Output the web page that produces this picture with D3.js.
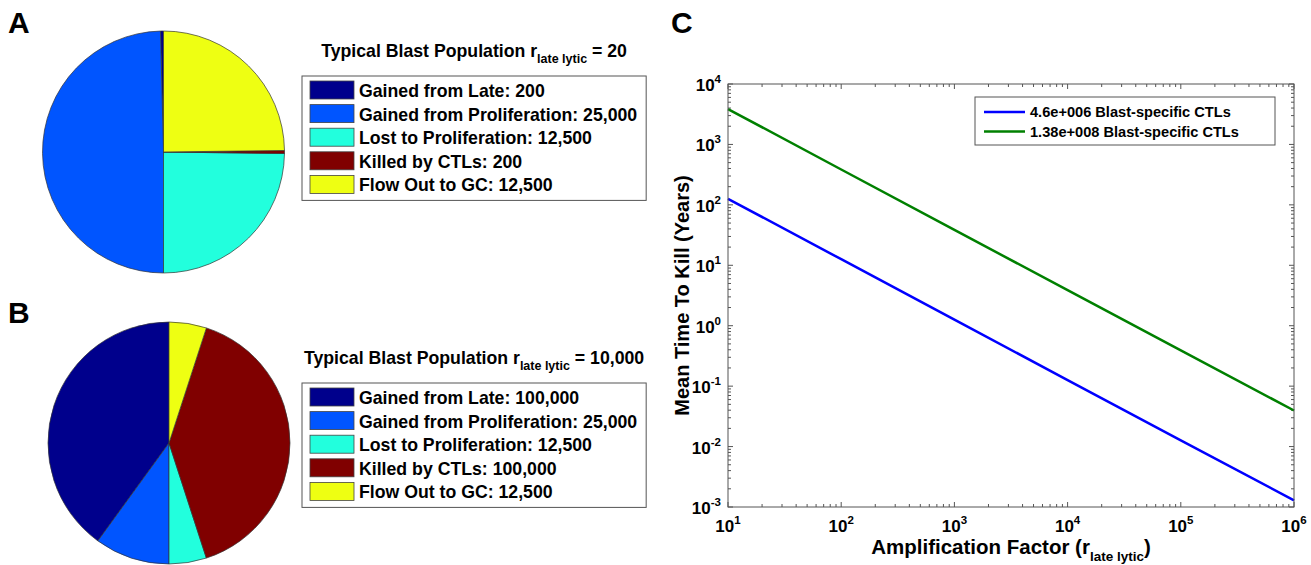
<!DOCTYPE html>
<html lang="en">
<head>
<meta charset="utf-8" />
<title>Blast population and mean time to kill</title>
<script src="https://cdn.jsdelivr.net/npm/d3@7"></script>
<style>
  body { margin: 0; background: #fff; }
  text { font-family: "Liberation Sans", Arial, sans-serif; font-weight: bold; fill: #000; }
</style>
</head>
<body>
<script>
// pie data (panels A and B)
var categories = ["Gained from Late", "Gained from Proliferation", "Lost to Proliferation", "Killed by CTLs", "Flow Out to GC"];
var valuesA = [200, 25000, 12500, 200, 12500];
var valuesB = [100000, 25000, 12500, 100000, 12500];
var sliceColors = ["#00008c", "#0055ff", "#22ffdd", "#800000", "#eeff12"];

// line data (panel C)
var ampFactor = [10, 100, 1000, 10000, 100000, 1000000];
var timeLow = [126, 12.6, 1.26, 0.126, 0.0127, 0.00129];
var timeHigh = [3850, 385, 38.5, 3.88, 0.39, 0.0395];
var seriesNames = ["4.6e+006 Blast-specific CTLs", "1.38e+008 Blast-specific CTLs"];
var seriesColors = ["#0000ff", "#008000"];
var xTickExp = [1, 2, 3, 4, 5, 6];
var yTickExp = [-3, -2, -1, 0, 1, 2, 3, 4];

var w = 1311, h = 565;
var svg = d3.select("body").append("svg").attr("width", w).attr("height", h);

var fmt = d3.format(",");

// panel letters
[["A", 8, 33], ["B", 8, 323], ["C", 671, 33]].forEach(function (l) {
  svg.append("text").attr("x", l[1]).attr("y", l[2]).attr("font-size", 30).text(l[0]);
});

function drawPie(cx, cy, values, rValue, boxTop) {
  var pie = d3.pie().sort(null).startAngle(0).endAngle(-2 * Math.PI);
  var arc = d3.arc().innerRadius(0).outerRadius(121);
  var g = svg.append("g").attr("transform", "translate(" + cx + "," + cy + ")");
  g.selectAll("path")
    .data(pie(values))
    .enter()
    .append("path")
    .attr("d", arc)
    .attr("fill", function (d, i) { return sliceColors[i]; })
    .attr("stroke", "#333")
    .attr("stroke-width", 0.7);

  // legend box
  var lg = svg.append("g");
  var rowH = 23.6;
  var box = lg.append("rect")
    .attr("x", 302).attr("y", boxTop)
    .attr("height", 5 + 4 * rowH + 18 + 7)
    .attr("fill", "#fff").attr("stroke", "#555").attr("stroke-width", 1);

  var maxLen = 0;
  values.forEach(function (v, i) {
    var y = boxTop + 5 + i * rowH;
    lg.append("rect")
      .attr("x", 310).attr("y", y).attr("width", 44).attr("height", 18)
      .attr("fill", sliceColors[i]).attr("stroke", "#444").attr("stroke-width", 0.8);
    var t = lg.append("text")
      .attr("x", 359).attr("y", y + 16)
      .attr("font-size", 17.7)
      .text(categories[i] + ": " + fmt(v));
    maxLen = Math.max(maxLen, t.node().getComputedTextLength());
  });
  var boxW = 359 + maxLen + 9 - 302;
  box.attr("width", boxW);

  // title centred over box
  var title = svg.append("text")
    .attr("x", 302 + boxW / 2).attr("y", boxTop - 19)
    .attr("text-anchor", "middle")
    .attr("font-size", 17.7);
  title.append("tspan").text("Typical Blast Population r");
  title.append("tspan").attr("font-size", 12.5).attr("dy", 6).text("late lytic");
  title.append("tspan").attr("dy", -6).text(" = " + fmt(rValue));
}

drawPie(163.5, 152, valuesA, 20, 76);
drawPie(169, 443, valuesB, 10000, 383);

// panel C
var x0 = 728, x1 = 1294, y0 = 507, y1 = 84;
var xScale = d3.scaleLog().domain([10, 1e6]).range([x0, x1]);
var yScale = d3.scaleLog().domain([1e-3, 1e4]).range([y0, y1]);

var axisColor = "#555";
var gC = svg.append("g");

// ticks (inward, on all four sides)
var xTicks = [];
xTickExp.forEach(function (e) {
  for (var m = 1; m < 10; m++) {
    var v = m * Math.pow(10, e);
    if (v <= 1e6) xTicks.push({ v: v, major: m === 1 });
  }
});
var yTicks = [];
yTickExp.forEach(function (e) {
  for (var m = 1; m < 10; m++) {
    var v = m * Math.pow(10, e);
    if (v <= 1e4) yTicks.push({ v: v, major: m === 1 });
  }
});

xTicks.forEach(function (t) {
  var x = xScale(t.v), len = t.major ? 5 : 3;
  gC.append("line").attr("x1", x).attr("x2", x).attr("y1", y0).attr("y2", y0 - len)
    .attr("stroke", axisColor);
  gC.append("line").attr("x1", x).attr("x2", x).attr("y1", y1).attr("y2", y1 + len)
    .attr("stroke", axisColor);
});
yTicks.forEach(function (t) {
  var y = yScale(t.v), len = t.major ? 5 : 3;
  gC.append("line").attr("x1", x0).attr("x2", x0 + len).attr("y1", y).attr("y2", y)
    .attr("stroke", axisColor);
  gC.append("line").attr("x1", x1).attr("x2", x1 - len).attr("y1", y).attr("y2", y)
    .attr("stroke", axisColor);
});

// lines
var line = d3.line()
  .x(function (d) { return xScale(d[0]); })
  .y(function (d) { return yScale(d[1]); });
[timeLow, timeHigh].forEach(function (s, k) {
  gC.append("path")
    .datum(ampFactor.map(function (a, i) { return [a, s[i]]; }))
    .attr("d", line)
    .attr("fill", "none")
    .attr("stroke", seriesColors[k])
    .attr("stroke-width", 2.5);
});

// box
gC.append("rect").attr("x", x0).attr("y", y1).attr("width", x1 - x0).attr("height", y0 - y1)
  .attr("fill", "none").attr("stroke", axisColor).attr("stroke-width", 1);

// tick labels
xTickExp.forEach(function (e) {
  var t = gC.append("text").attr("x", xScale(Math.pow(10, e))).attr("y", y0 + 25)
    .attr("text-anchor", "middle").attr("font-size", 17);
  t.append("tspan").text("10");
  t.append("tspan").attr("font-size", 11.5).attr("dy", -8).text(e);
});
yTickExp.forEach(function (e) {
  var t = gC.append("text").attr("x", x0 - 7).attr("y", yScale(Math.pow(10, e)) + 7)
    .attr("text-anchor", "end").attr("font-size", 17);
  t.append("tspan").text("10");
  t.append("tspan").attr("font-size", 11.5).attr("dy", -8).text(e);
});

// axis titles
var xt = gC.append("text").attr("x", (x0 + x1) / 2).attr("y", y0 + 47)
  .attr("text-anchor", "middle").attr("font-size", 20.5);
xt.append("tspan").text("Amplification Factor (r");
xt.append("tspan").attr("font-size", 13.5).attr("dy", 7).text("late lytic");
xt.append("tspan").attr("dy", -7).text(")");

gC.append("text")
  .attr("transform", "translate(689," + (y0 + y1) / 2 + ") rotate(-90)")
  .attr("text-anchor", "middle").attr("font-size", 20)
  .text("Mean Time To Kill (Years)");

// legend
var lgx = 975, lgy = 97;
gC.append("rect").attr("x", lgx).attr("y", lgy).attr("width", 1275 - lgx).attr("height", 48)
  .attr("fill", "#fff").attr("stroke", axisColor).attr("stroke-width", 1);
seriesNames.forEach(function (n, k) {
  var y = lgy + 15 + k * 19.5;
  gC.append("line").attr("x1", lgx + 9).attr("x2", lgx + 50).attr("y1", y).attr("y2", y)
    .attr("stroke", seriesColors[k]).attr("stroke-width", 2.5);
  gC.append("text").attr("x", lgx + 55).attr("y", y + 5).attr("font-size", 14.6).text(n);
});
</script>
</body>
</html>
